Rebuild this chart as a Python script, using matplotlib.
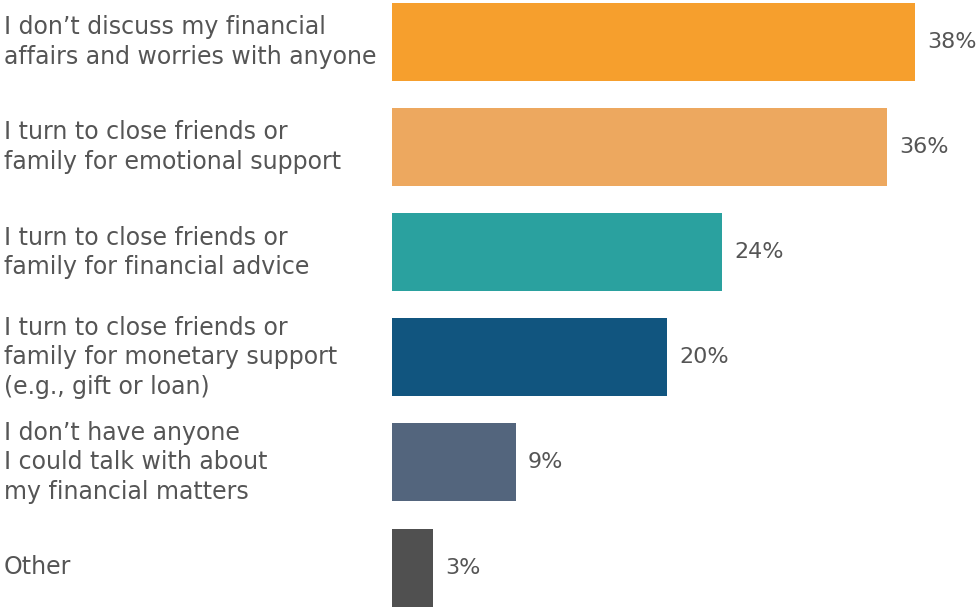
import matplotlib
matplotlib.use("Agg")
import matplotlib.pyplot as plt

categories = [
    "I don\u2019t discuss my financial\naffairs and worries with anyone",
    "I turn to close friends or\nfamily for emotional support",
    "I turn to close friends or\nfamily for financial advice",
    "I turn to close friends or\nfamily for monetary support\n(e.g., gift or loan)",
    "I don\u2019t have anyone\nI could talk with about\nmy financial matters",
    "Other",
]
values = [38, 36, 24, 20, 9, 3]
colors = ["#F69F2D", "#EDA85F", "#2AA19F", "#11557F", "#53657D", "#505050"]
text_color = "#555555"

W, H = 979, 607
fig = plt.figure(figsize=(W / 100, H / 100), dpi=100)
left = 392 / W
ax = fig.add_axes([left, 0, 1 - left, 1])

px_per_unit = 523 / 38.0
ax.set_xlim(0, (W - 392) / px_per_unit)
spacing = 105.1
first = 42.0
ax.set_ylim((H - first) / spacing, -first / spacing)

ypos = list(range(len(values)))
ax.barh(ypos, values, height=78 / spacing, color=colors)
for y, v in zip(ypos, values):
    ax.text(v + 12 / px_per_unit, y, f"{v}%", va="center", ha="left",
            fontsize=16, color=text_color, family="DejaVu Sans")

for y, lab in zip(ypos, categories):
    fig.text(4 / W, 1 - (first + spacing * y) / H, lab, va="center", ha="left",
             fontsize=17, color=text_color, linespacing=1.28, family="DejaVu Sans")

ax.axis("off")
fig.savefig("out.png", dpi=100)
